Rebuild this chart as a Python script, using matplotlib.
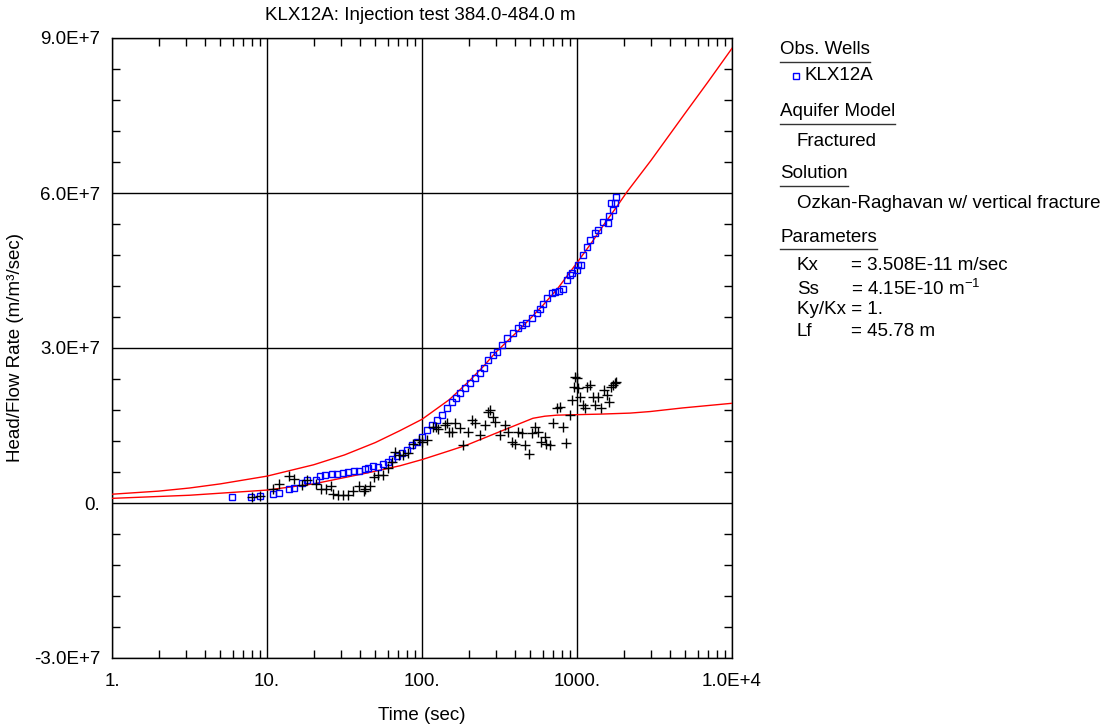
import matplotlib
matplotlib.use("Agg")
import matplotlib.pyplot as plt
from matplotlib.lines import Line2D
import numpy as np

plt.rcParams['font.family'] = ['Liberation Sans', 'DejaVu Sans']
plt.rcParams['mathtext.fontset'] = 'custom'
plt.rcParams['mathtext.rm'] = 'Liberation Sans'
plt.rcParams['mathtext.it'] = 'Liberation Sans'

FS = 13.5

# observed drawdown (blue squares), time in sec, value in 1e7 m/m3/sec
obs_t = [5.97, 7.9, 8.95, 10.9, 11.9, 13.9, 15.0, 16.7, 18.0, 20.7, 21.9, 23.6, 26.1, 28.1,
         31.0, 33.4, 36.4, 39.4, 42.8, 45.0, 48.6, 52.0, 56.0, 60.0, 64.0, 69.0, 74.0, 79.5,
         86.0, 92.5, 99.6, 107, 116, 125, 134, 144, 155, 165, 176, 190, 204, 220, 237, 252,
         268, 285, 303, 327, 352, 385, 418, 445, 472, 510, 548, 575, 605, 645, 685, 720,
         760, 817, 860, 900, 925, 995, 1015, 1060, 1090, 1155, 1210, 1300, 1370, 1480,
         1590, 1620, 1660, 1700, 1750, 1790]
obs_v = [0.11, 0.11, 0.13, 0.17, 0.19, 0.27, 0.30, 0.38, 0.45, 0.45, 0.52, 0.54, 0.56, 0.57,
         0.59, 0.60, 0.61, 0.62, 0.65, 0.68, 0.72, 0.69, 0.75, 0.80, 0.85, 0.91, 0.97, 1.03,
         1.12, 1.19, 1.28, 1.41, 1.51, 1.61, 1.70, 1.84, 1.95, 2.04, 2.12, 2.22, 2.32, 2.42,
         2.51, 2.62, 2.77, 2.86, 2.93, 3.06, 3.19, 3.29, 3.38, 3.44, 3.48, 3.58, 3.67, 3.76,
         3.86, 3.96, 4.06, 4.08, 4.10, 4.14, 4.32, 4.41, 4.45, 4.51, 4.61, 4.61, 4.80, 4.96,
         5.09, 5.23, 5.28, 5.44, 5.42, 5.55, 5.81, 5.67, 5.80, 5.92]

# derivative (black crosses)
der_t = [7.96, 9.0, 10.9, 11.9, 13.9, 15.0, 16.7, 18.0, 20.7, 22.2, 24.0, 26.0, 26.8, 28.8,
         31.0, 33.4, 36.0, 39.4, 42.2, 43.2, 46.0, 49.0, 52.0, 56.0, 60.0, 64.0, 67.0, 71.0,
         75.0, 81.0, 88.0, 95.0, 100, 107, 118, 124, 127, 141, 145, 150, 155, 163, 176, 185,
         199, 210, 220, 237, 255, 268, 275, 288, 297, 317, 344, 360, 380, 398, 418, 440,
         465, 487, 510, 535, 560, 590, 620, 635, 670, 700, 740, 780, 815, 850, 900, 925,
         950, 965, 1000, 1020, 1050, 1090, 1130, 1155, 1210, 1260, 1300, 1370, 1430, 1490,
         1550, 1600, 1660, 1700, 1750, 1790]
der_v = [0.12, 0.14, 0.28, 0.37, 0.53, 0.46, 0.35, 0.45, 0.36, 0.27, 0.27, 0.33, 0.17, 0.15,
         0.15, 0.15, 0.24, 0.33, 0.23, 0.28, 0.33, 0.51, 0.54, 0.54, 0.67, 0.80, 0.99, 0.93,
         0.93, 0.96, 1.15, 1.22, 1.19, 1.22, 1.48, 1.48, 1.44, 1.51, 1.54, 1.38, 1.38, 1.54,
         1.45, 1.12, 1.38, 1.61, 1.54, 1.32, 1.51, 1.77, 1.80, 1.67, 1.57, 1.32, 1.51, 1.38,
         1.19, 1.15, 1.38, 1.35, 1.12, 0.95, 1.35, 1.48, 1.38, 1.19, 1.28, 1.15, 1.12, 1.54,
         1.83, 1.86, 1.48, 1.17, 1.70, 1.99, 2.25, 2.44, 2.41, 2.22, 2.06, 1.90, 1.83, 2.25,
         2.28, 2.06, 1.90, 2.06, 1.83, 2.19, 2.09, 1.96, 2.25, 2.28, 2.32, 2.35]

# fitted type curve and its derivative (red)
fit_t = [1, 2, 3.16, 5, 10, 20, 31.6, 50, 72, 100, 150, 200, 250, 300, 400, 500, 600,
         750, 1000, 1250, 1500, 1790, 2100, 3000, 5000, 7000, 10000]
fit_v = [0.17, 0.23, 0.29, 0.37, 0.52, 0.74, 0.93, 1.17, 1.40, 1.62, 2.00, 2.35, 2.65,
         2.92, 3.28, 3.57, 3.82, 4.15, 4.65, 5.05, 5.40, 5.72, 6.02, 6.63, 7.55, 8.15, 8.80]
fitd_t = [1, 3.16, 10, 20, 44, 72, 100, 150, 194, 317, 520, 620, 740, 1000, 1400, 2200,
          2960, 4800, 10000]
fitd_v = [0.09, 0.15, 0.25, 0.37, 0.58, 0.72, 0.84, 1.01, 1.12, 1.38, 1.64, 1.68, 1.70,
          1.71, 1.72, 1.74, 1.77, 1.84, 1.93]

W, H = 1101, 727
fig = plt.figure(figsize=(W / 100, H / 100), dpi=100)
ax = fig.add_axes([112 / W, 1 - 658 / H, 620 / W, 620 / H])

sc = 1e7
ax.plot(fit_t, np.array(fit_v) * sc, color='red', lw=1, zorder=3)
ax.plot(fitd_t, np.array(fitd_v) * sc, color='red', lw=1, zorder=3)
ax.plot(obs_t, np.array(obs_v) * sc, ls='none', marker='s', ms=5, mfc='none',
        mec='blue', mew=1, zorder=4)
ax.plot(der_t, np.array(der_v) * sc, ls='none', marker='+', ms=7, color='black',
        mew=1, zorder=4)

ax.set_xscale('log')
ax.set_xlim(1, 1e4)
ax.set_ylim(-3e7, 9e7)
ax.set_xticks([1, 10, 100, 1000, 1e4])
ax.set_xticklabels(['1.', '10.', '100.', '1000.', '1.0E+4'])
ax.set_xticks([m * 10 ** d for d in range(4) for m in range(2, 10)], minor=True)
ax.set_yticks([-3e7, 0, 3e7, 6e7, 9e7])
ax.set_yticklabels(['-3.0E+7', '0.', '3.0E+7', '6.0E+7', '9.0E+7'])
ax.set_yticks([v * 1e6 for v in range(-30, 91, 6) if v % 30 != 0], minor=True)
ax.tick_params(which='both', direction='in', top=True, right=True, labelsize=FS,
               color='black', width=1)
ax.tick_params(axis='x', which='major', pad=11, length=0)
ax.tick_params(axis='y', which='major', pad=8.5, length=0)
ax.tick_params(which='minor', length=6)
ax.grid(True, which='major', color='black', lw=1)
for s in ax.spines.values():
    s.set_linewidth(1)
    s.set_color('black')

ax.set_xlabel('Time (sec)', fontsize=FS, labelpad=12)
ax.set_ylabel('Head/Flow Rate (m/m³/sec)', fontsize=FS, labelpad=7)
fig.text(420 / W, 1 - 15 / H, 'KLX12A: Injection test 384.0-484.0 m', fontsize=FS,
         ha='center', va='center')


def ftxt(x, y, s, **kw):
    return fig.text(x / W, 1 - y / H, s, fontsize=FS, va='center', ha='left', **kw)


renderer = fig.canvas.get_renderer()


def heading(y, s):
    t = ftxt(780, y, s)
    bb = t.get_window_extent(renderer)
    fig.add_artist(Line2D([780 / W, (780 + bb.width) / W],
                          [1 - (y + 12) / H, 1 - (y + 12) / H],
                          transform=fig.transFigure, color='#333333', lw=1))


heading(50, 'Obs. Wells')
fig.add_artist(Line2D([796 / W], [1 - 76 / H], transform=fig.transFigure, marker='s',
                      ms=4, mfc='none', mec='blue', mew=1, ls='none'))
ftxt(805, 76, 'KLX12A')
heading(112, 'Aquifer Model')
ftxt(797, 141, 'Fractured')
heading(174, 'Solution')
ftxt(797, 204, 'Ozkan-Raghavan w/ vertical fracture')
heading(237, 'Parameters')
ftxt(797, 266, 'Kx')
ftxt(851, 266, '= 3.508E-11 m/sec')
ftxt(797, 289, 'Ss')
ftxt(851, 289, '= 4.15E-10 m$^{-1}$')
ftxt(797, 310, 'Ky/Kx = 1.')
ftxt(797, 331, 'Lf')
ftxt(851, 331, '= 45.78 m')

fig.savefig('out.png', dpi=100)
